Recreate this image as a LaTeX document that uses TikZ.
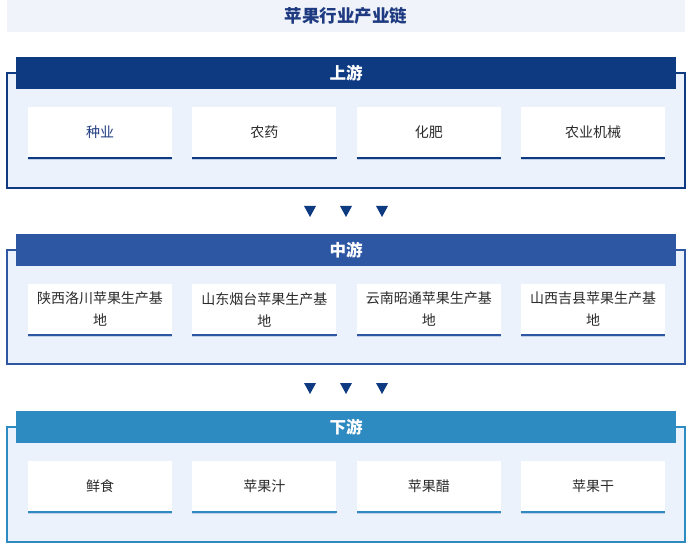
\documentclass[tikz,border=0pt]{standalone}
\usepackage{fontspec}
\setmainfont{Noto Sans CJK SC}
\usepackage{tikz}
\usetikzlibrary{positioning,shadows}
\definecolor{titlebg}{HTML}{F0F4FA}
\definecolor{titleblue}{HTML}{1E3A80}
\definecolor{paleblue}{HTML}{ECF2FC}
\definecolor{upblue}{HTML}{0E3A82}
\definecolor{midblue}{HTML}{2D57A3}
\definecolor{downblue}{HTML}{2E8BC2}
\definecolor{textgray}{HTML}{2B2B2B}
\definecolor{shadowblue}{HTML}{7F98C8}

\begin{document}
\begin{tikzpicture}[x=1pt,y=-1pt,node distance=20pt,
  main node/.style={rectangle,fill=white,minimum width=144pt,minimum height=51pt,inner sep=0pt,
    text width=136pt,align=center,text=textgray,font=\fontsize{14}{22}\selectfont,
    drop shadow={shadow xshift=0pt,shadow yshift=-2pt,fill=shadowblue,opacity=.4}},
  head node/.style={rectangle,minimum width=660pt,minimum height=32pt,inner sep=0pt,
    text=white,font=\fontsize{16.5}{18}\selectfont\bfseries},
  frame/.style={line width=1.5pt,fill=paleblue},
  bar/.style={line width=2pt}]
  \useasboundingbox (0,0) rectangle (691,548);

  % title
  \node[fill=titlebg,minimum width=678pt,minimum height=32pt,inner sep=0pt,text=titleblue,
    font=\fontsize{17.5}{20}\selectfont\bfseries] (title) at (346,16) {苹果行业产业链};

  % upstream
  \draw[frame,draw=upblue] (7,73) rectangle (685,188);
  \node[head node,fill=upblue] (up) at (346,73) {上游};
  \node[main node,text=titleblue] (u1) at (100,132.5) {种业};
  \node[main node] (u2) [right=of u1] {农药};
  \node[main node] (u3) [right=of u2] {化肥};
  \node[main node] (u4) [right=of u3] {农业机械};
  \foreach \n in {u1,u2,u3,u4}
    \draw[bar,upblue] (\n.south west) -- (\n.south east);

  \foreach \x in {310,346,382}
    \fill[upblue] (\x-6,206) -- (\x+6,206) -- (\x,217) -- cycle;

  % midstream
  \draw[frame,draw=midblue] (7,250) rectangle (685,364);
  \node[head node,fill=midblue] (mid) at (346,250) {中游};
  \node[main node] (m1) at (100,309.5) {陕西洛川苹果生产基\\地};
  \node[main node] (m2) [right=of m1] {山东烟台苹果生产基\\地};
  \node[main node] (m3) [right=of m2] {云南昭通苹果生产基\\地};
  \node[main node] (m4) [right=of m3] {山西吉县苹果生产基\\地};
  \foreach \n in {m1,m2,m3,m4}
    \draw[bar,midblue] (\n.south west) -- (\n.south east);

  \foreach \x in {310,346,382}
    \fill[upblue] (\x-6,383) -- (\x+6,383) -- (\x,394) -- cycle;

  % downstream
  \draw[frame,draw=downblue] (7,427) rectangle (685,542);
  \node[head node,fill=downblue] (down) at (346,427) {下游};
  \node[main node] (d1) at (100,486.5) {鲜食};
  \node[main node] (d2) [right=of d1] {苹果汁};
  \node[main node] (d3) [right=of d2] {苹果醋};
  \node[main node] (d4) [right=of d3] {苹果干};
  \foreach \n in {d1,d2,d3,d4}
    \draw[bar,downblue] (\n.south west) -- (\n.south east);
\end{tikzpicture}
\end{document}
